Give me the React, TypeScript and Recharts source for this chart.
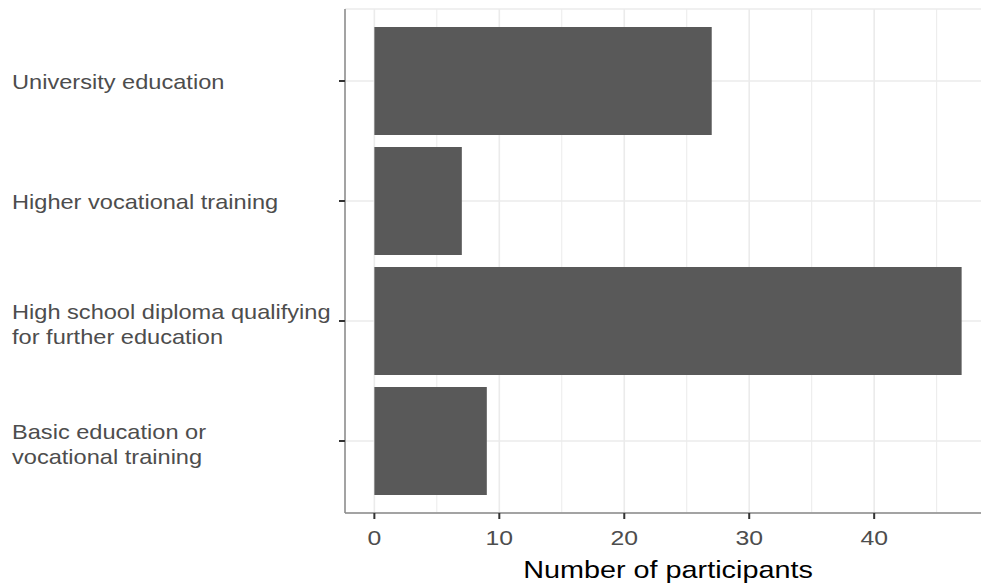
import React from "react";
import { BarChart, Bar, XAxis, YAxis, CartesianGrid } from "recharts";

const categories: string[] = [
  "University education",
  "Higher vocational training",
  "High school diploma qualifying\nfor further education",
  "Basic education or\nvocational training",
];
const participants: number[] = [27, 7, 47, 9];
const xTicks: number[] = [0, 10, 20, 30, 40];
const xMinorTicks: number[] = [5, 15, 25, 35, 45];
const xDomain: [number, number] = [-2.35, 49.35];
const xTitle = "Number of participants";

const data = categories.map((c, i) => ({ category: c, value: participants[i] }));

const FONT = '"Liberation Sans", Arial, Helvetica, sans-serif';
const STRETCH = 1.18;

const YTick = (props: any) => {
  const { y, payload } = props;
  const lines: string[] = String(payload.value).split("\n");
  const first = y + 8 - 10.5 * (lines.length - 1);
  return (
    <g>
      {lines.map((ln, i) => (
        <text
          key={i}
          transform={`translate(12,${first + i * 25}) scale(${STRETCH},1)`}
          x={0}
          y={0}
          fill="#4D4D4D"
          fontSize={20}
          fontFamily={FONT}
          textAnchor="start"
        >
          {ln}
        </text>
      ))}
    </g>
  );
};

const XTick = (props: any) => {
  const { x, y, payload } = props;
  return (
    <text
      transform={`translate(${x},${y + 20}) scale(${STRETCH},1)`}
      x={0}
      y={0}
      fill="#4D4D4D"
      fontSize={21}
      fontFamily={FONT}
      textAnchor="middle"
    >
      {payload.value}
    </text>
  );
};

const renderTitle = (props: any) => {
  const vb = props.viewBox || {};
  const cx = (vb.x ?? 0) + (vb.width ?? 0) / 2;
  const cy = (vb.y ?? 0) + 65;
  return (
    <text
      transform={`translate(${cx},${cy}) scale(1.2,1)`}
      x={0}
      y={0}
      fill="#000000"
      fontSize={24}
      fontFamily={FONT}
      textAnchor="middle"
    >
      {xTitle}
    </text>
  );
};

const minorGen = (args: any) => {
  const xAxis = args?.xAxis;
  const offset = args?.offset || {};
  if (xAxis && typeof xAxis.scale === "function") {
    return xMinorTicks.map((v) => xAxis.scale(v));
  }
  return xMinorTicks.map(
    (v) => offset.left + ((v - xDomain[0]) / (xDomain[1] - xDomain[0])) * offset.width
  );
};

export default function App() {
  return (
    <div
      style={{
        position: "absolute",
        left: 0,
        top: 0,
        width: 981,
        height: 588,
        overflow: "hidden",
        background: "#ffffff",
      }}
    >
      <BarChart
        width={1000}
        height={588}
        data={data}
        layout="vertical"
        margin={{ top: 9, right: 9, bottom: 0, left: 0 }}
        barCategoryGap="5%"
      >
        <CartesianGrid
          horizontal={false}
          vertical={true}
          verticalCoordinatesGenerator={minorGen}
          stroke="#EBEBEB"
          strokeWidth={1}
        />
        <CartesianGrid stroke="#EBEBEB" strokeWidth={1.6} />
        <XAxis
          type="number"
          dataKey="value"
          domain={xDomain}
          allowDataOverflow
          ticks={xTicks}
          interval={0}
          height={75}
          tickSize={6}
          tickMargin={6}
          tickLine={{ stroke: "#333333", strokeWidth: 2 }}
          axisLine={{ stroke: "#8A8A8A", strokeWidth: 1.5 }}
          tick={<XTick />}
          label={{ value: xTitle, content: renderTitle }}
        />
        <XAxis
          xAxisId="top"
          orientation="top"
          type="number"
          domain={xDomain}
          allowDataOverflow
          height={0}
          tick={false}
          tickLine={false}
          axisLine={{ stroke: "#8A8A8A", strokeWidth: 1.5 }}
        />
        <YAxis
          type="category"
          dataKey="category"
          width={345}
          padding={{ top: 12, bottom: 12 }}
          tickSize={6}
          tickMargin={4}
          interval={0}
          tickLine={{ stroke: "#333333", strokeWidth: 2 }}
          axisLine={{ stroke: "#8A8A8A", strokeWidth: 1.5 }}
          tick={<YTick />}
        />
        <Bar dataKey="value" fill="#595959" isAnimationActive={false} />
      </BarChart>
    </div>
  );
}
